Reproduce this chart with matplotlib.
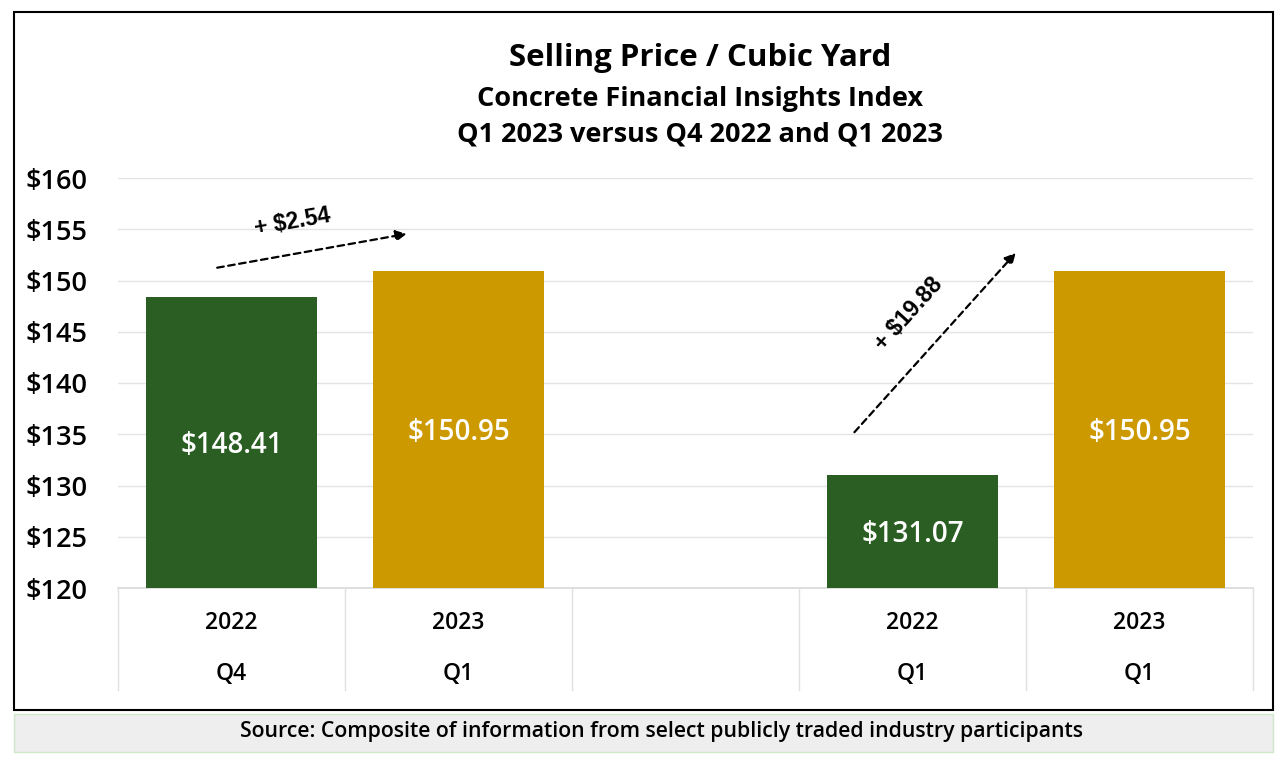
import matplotlib.pyplot as plt
from matplotlib.patches import Rectangle

plt.rcParams['font.family'] = ['Open Sans', 'DejaVu Sans']

# Data
years = ['2022', '2023', '', '2022', '2023']
quarters = ['Q4', 'Q1', '', 'Q1', 'Q1']
prices = [148.41, 150.95, None, 131.07, 150.95]
bar_colors = ['#2a5e22', '#cc9900', None, '#2a5e22', '#cc9900']
yticks = [120, 125, 130, 135, 140, 145, 150, 155, 160]
changes = ['+ $2.54', '+ $19.88']

fig = plt.figure(figsize=(12.8, 7.64), dpi=100)
ax = fig.add_axes([118/1280, 1-588/764, (1253-118)/1280, (588-178)/764])

# bars and value labels
for i, (p, c) in enumerate(zip(prices, bar_colors)):
    if p is None:
        continue
    ax.bar(i, p - 120, bottom=120, width=0.75, color=c, zorder=3)
    ax.text(i, 120 + (p - 120) / 2 - 0.3, f'${p:.2f}', ha='center', va='center',
            color='white', fontsize=20, fontweight='semibold', zorder=4)

ax.set_xlim(-0.5, 4.5)
ax.set_ylim(120, 160)
ax.set_yticks(yticks)
ax.set_yticklabels([f'${v}' for v in yticks], fontsize=19.5, fontweight='semibold')
ax.tick_params(axis='y', length=0, pad=22)
ax.set_xticks([])
ax.grid(axis='y', color='#e4e4e4', lw=1, zorder=0)
for s in ax.spines.values():
    s.set_visible(False)

# category "table" below the axis
tr = ax.get_xaxis_transform()
ax.plot([-0.5, 4.5], [0, 0], transform=tr, color='#d9d9d9', lw=1.2, clip_on=False)
for b in [-0.5, 0.5, 1.5, 2.5, 3.5, 4.5]:
    ax.plot([b, b], [0, -0.249], transform=tr, color='#e0e0e0', lw=1, clip_on=False)
for i, (yr, q) in enumerate(zip(years, quarters)):
    ax.text(i, -0.085, yr, transform=tr, ha='center', va='center', fontsize=16.5,
            fontweight='semibold')
    ax.text(i, -0.209, q, transform=tr, ha='center', va='center', fontsize=16.5,
            fontweight='semibold')

# change arrows
arrow = dict(arrowstyle='-|>', linestyle=(0, (3, 2)), lw=1.6, color='black',
             mutation_scale=16)
ax.annotate('', xy=(0.784, 154.6), xytext=(-0.075, 151.2), arrowprops=arrow)
ax.annotate('', xy=(3.463, 152.9), xytext=(2.736, 135.0), arrowprops=arrow)
ax.text(0.269, 155.7, changes[0], rotation=10, ha='center', va='center',
        fontsize=16.5, fontweight='bold', family='Liberation Sans')
ax.text(2.985, 146.7, changes[1], rotation=48, ha='center', va='center',
        fontsize=16.5, fontweight='bold', family='Liberation Sans')

# titles
fig.text(700/1280, 1-58/764, 'Selling Price / Cubic Yard', ha='center', va='center',
         fontsize=22.5, fontweight='bold')
fig.text(700/1280, 1-99/764, 'Concrete Financial Insights Index', ha='center',
         va='center', fontsize=19.5, fontweight='bold')
fig.text(700/1280, 1-134/764, 'Q1 2023 versus Q4 2022 and Q1 2023', ha='center',
         va='center', fontsize=19.5, fontweight='bold')

# frame and source box
fig.add_artist(Rectangle((14/1280, 1-710/764), (1273-14)/1280, (710-12)/764,
                         transform=fig.transFigure, fill=False, ec='black', lw=1.5))
fig.add_artist(Rectangle((14/1280, 1-752/764), (1273-14)/1280, (752-714)/764,
                         transform=fig.transFigure, fc='#eeeeee', ec='#cfe8c8', lw=1))
fig.text(661/1280, 1-732/764,
         'Source: Composite of information from select publicly traded industry participants',
         ha='center', va='center', fontsize=15.3, fontweight='semibold')

fig.savefig('out.png', dpi=100)
